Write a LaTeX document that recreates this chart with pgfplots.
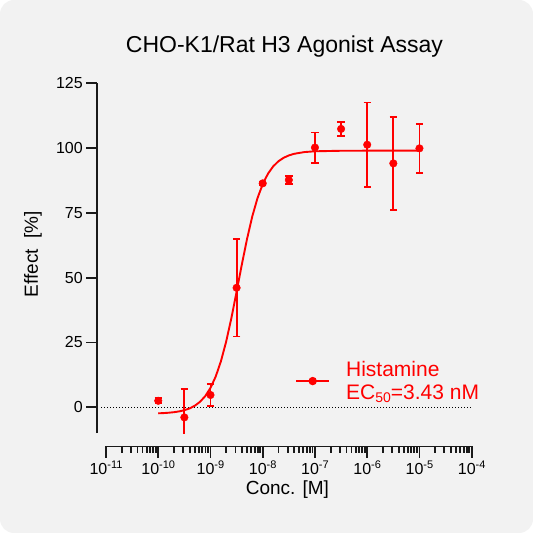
\documentclass[border=0pt]{standalone}
\usepackage{fontspec}
\setmainfont{Liberation Sans}
\usepackage{pgfplots}
\pgfplotsset{compat=1.18}
\definecolor{bg}{HTML}{F2F2F2}
\definecolor{axc}{HTML}{1A1A1A}
\definecolor{histred}{HTML}{FF0000}
% 10 with a small raised exponent
\newcommand{\tp}[1]{10{\fontsize{11}{11}\selectfont\raisebox{5.5pt}{#1}}}

\begin{document}
\begin{tikzpicture}[x=1pt,y=1pt]
\fill[bg, rounded corners=14pt] (0,0) rectangle (533,533);
\begin{axis}[
    at={(106pt,99.8pt)}, anchor=south west,
    scale only axis, width=365.7pt, height=349.9pt,
    xmode=log, xmin=1e-11, xmax=1e-4,
    ymin=-10, ymax=125,
    axis x line*=bottom, axis y line*=left,
    axis x line shift=13.3pt, axis y line shift=8.7pt,
    axis line style={-, axc, line width=1.9pt},
    tick align=outside,
    major tick length=11pt, minor tick length=6pt,
    tick style={axc, line width=1.8pt},
    xtick={1e-11,1e-10,1e-9,1e-8,1e-7,1e-6,1e-5,1e-4},
    xticklabels={\tp{-11},\tp{-10},\tp{-9},\tp{-8},\tp{-7},\tp{-6},\tp{-5},\tp{-4}},
    minor xtick={2e-11,3e-11,4e-11,5e-11,6e-11,7e-11,8e-11,9e-11,
                 2e-10,3e-10,4e-10,5e-10,6e-10,7e-10,8e-10,9e-10,
                 2e-9,3e-9,4e-9,5e-9,6e-9,7e-9,8e-9,9e-9,
                 2e-8,3e-8,4e-8,5e-8,6e-8,7e-8,8e-8,9e-8,
                 2e-7,3e-7,4e-7,5e-7,6e-7,7e-7,8e-7,9e-7,
                 2e-6,3e-6,4e-6,5e-6,6e-6,7e-6,8e-6,9e-6,
                 2e-5,3e-5,4e-5,5e-5,6e-5,7e-5,8e-5,9e-5},
    ytick={0,25,50,75,100,125},
    /pgf/number format/assume math mode=true,
    tick label style={font=\fontsize{16}{16}\selectfont, text=black},
    title={CHO-K1/Rat H3 Agonist Assay},
    title style={at={(axis description cs:0.5,1)}, anchor=base, yshift=25pt, xshift=-4.4pt,
                 font=\fontsize{23}{26}\selectfont},
    xlabel={Conc. [M]},
    xlabel style={at={(axis description cs:0.496,0)}, anchor=base, yshift=-60.8pt,
                  font=\fontsize{19}{22}\selectfont},
    ylabel={Effect\ \ [\%]},
    ylabel style={at={(axis description cs:0,0.512)}, anchor=center, yshift=73pt,
                  font=\fontsize{19}{22}\selectfont},
    clip mode=individual,
    legend style={at={(0.517,0.149)}, anchor=west, draw=none, fill=none,
                  inner sep=0pt, text=histred, font=\fontsize{21}{23}\selectfont},
    legend cell align=left,
    legend image code/.code={\draw[#1,mark repeat=2,mark phase=2] plot coordinates {(0pt,0pt)(16.5pt,0pt)(33pt,0pt)};},
]

% zero line
\draw[black, line width=1.2pt, dash pattern=on 1.1pt off 1.9pt] ([xshift=-4.7pt]axis cs:1e-11,0) -- (axis cs:1e-4,0);

% fitted curve (EC50 = 3.43 nM)
\addplot[forget plot, histred, line width=1.9pt] coordinates {
(1e-10,-2.33) (1.259e-10,-2.24) (1.585e-10,-2.10) (1.995e-10,-1.90)
(2.512e-10,-1.59) (3.162e-10,-1.13) (3.981e-10,-0.44) (5.012e-10,0.59)
(6.310e-10,2.11) (7.943e-10,4.31) (1e-9,7.47) (1.259e-9,11.86)
(1.585e-9,17.76) (1.995e-9,25.31) (2.512e-9,34.41) (3.162e-9,44.58)
(3.981e-9,55.05) (5.012e-9,64.96) (6.310e-9,73.63) (7.943e-9,80.68)
(1e-8,86.11) (1.259e-8,90.10) (1.585e-8,92.94) (1.995e-8,94.91)
(2.512e-8,96.26) (3.162e-8,97.17) (3.981e-8,97.79) (6.310e-8,98.47)
(1e-7,98.77) (3.162e-7,98.97) (1e-6,99.0) (1e-5,99.0)
};

% Histamine, mean +- error
\addplot[forget plot, color=histred, only marks, mark=*, mark size=3.8pt,
    mark options={fill=histred, draw=histred},
    error bars/.cd, y dir=both, y explicit,
    error bar style={line width=1.9pt, histred},
    error mark options={rotate=90, mark size=3.7pt, line width=1.9pt, histred}]
table[x=x, y=y, y error=e] {
x y e
1e-10 2.5 1.0
3.162e-10 -3.9 11.0
1e-9 4.75 4.4
3.162e-9 46.1 18.8
1e-8 86.4 0.6
3.162e-8 87.7 1.7
1e-7 100.2 5.8
3.162e-7 107.4 2.8
1e-6 101.3 16.3
3.162e-6 94.1 17.9
1e-5 99.9 9.5
};

\addlegendimage{histred, line width=1.9pt, mark=*, mark size=3.2pt}
\addlegendentry{\hspace*{14pt}\raisebox{11pt}{\begin{tabular}{@{}l@{}}Histamine\\EC{\fontsize{14}{14}\selectfont\raisebox{-3pt}{50}}=3.43 nM\end{tabular}}}

\end{axis}
\end{tikzpicture}
\end{document}
